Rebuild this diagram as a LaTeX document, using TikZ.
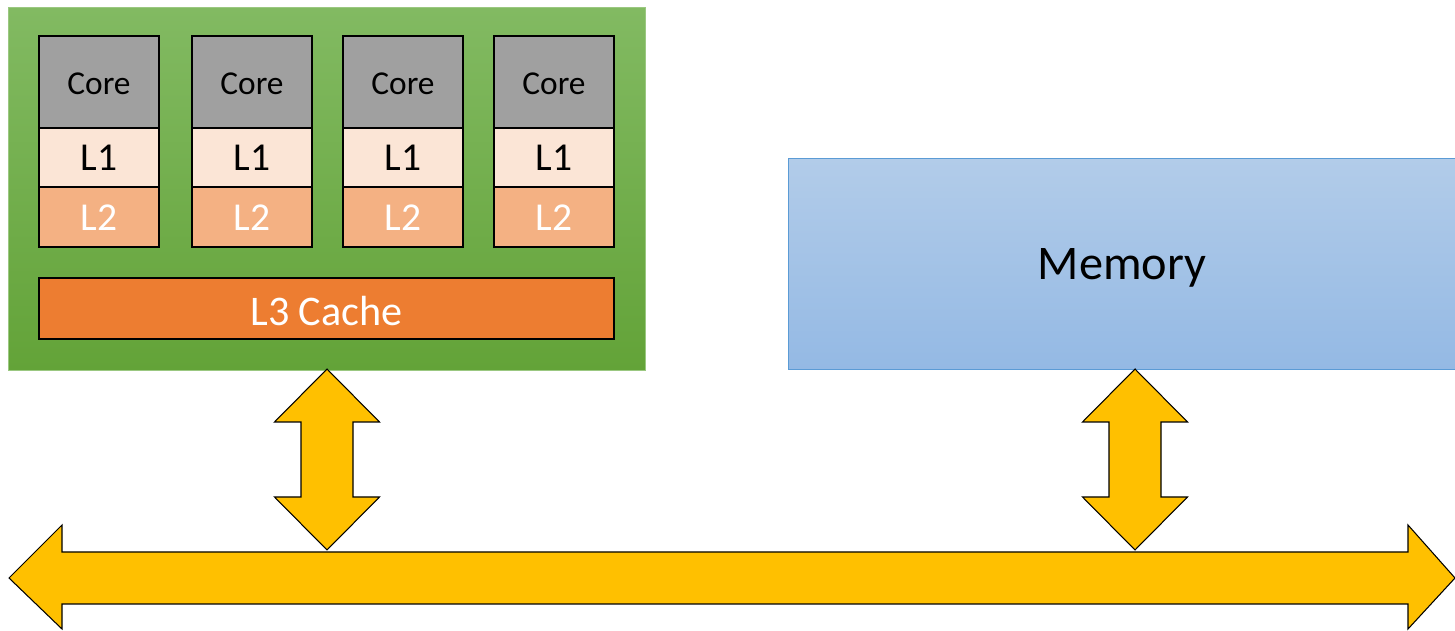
\documentclass[tikz,border=0pt]{standalone}
\usepackage{fontspec}
\setmainfont{Carlito}
\usetikzlibrary{positioning}

\definecolor{chiptop}{RGB}{130,186,98}
\definecolor{chipbot}{RGB}{99,163,56}
\definecolor{coregray}{RGB}{160,160,160}
\definecolor{lonefill}{RGB}{251,229,214}
\definecolor{ltwofill}{RGB}{244,177,131}
\definecolor{lthreefill}{RGB}{237,125,49}
\definecolor{memtop}{RGB}{178,204,233}
\definecolor{membot}{RGB}{148,185,228}
\definecolor{memline}{RGB}{91,155,213}
\definecolor{busyellow}{RGB}{255,192,0}

\begin{document}
\begin{tikzpicture}[x=0.02cm,y=-0.02cm,
  caps/.style={text height=#1,text depth=0pt},
  box/.style={draw=black,line width=1.1pt,inner sep=0pt,outer sep=0pt,minimum width=2.4cm},
  corebox/.style={box,fill=coregray,minimum height=1.84cm,caps=0.5cm,font=\fontsize{19}{23}\selectfont},
  lonebox/.style={box,fill=lonefill,minimum height=1.18cm,caps=0.53cm,font=\fontsize{22.5}{27}\selectfont},
  ltwobox/.style={box,fill=ltwofill,minimum height=1.2cm,caps=0.53cm,text=white,font=\fontsize{22.5}{27}\selectfont},
  bus/.style={fill=busyellow,draw=black,line width=0.6pt,line join=miter}]
\useasboundingbox (0,0) rectangle (1455,631);

% chip with the four cores
\node[anchor=north west,inner sep=0pt,minimum width=12.74cm,minimum height=7.26cm,
  top color=chiptop,bottom color=chipbot,draw=chiptop!80!white,line width=0.4pt] (cpu) at (8,7) {};

\node[corebox,anchor=north west] (core1) at (39,36) {Core};
\node[lonebox,below=0pt of core1] (lone1) {L1};
\node[ltwobox,below=0pt of lone1] (ltwo1) {L2};

\node[corebox,anchor=north west] (core2) at (192,36) {Core};
\node[lonebox,below=0pt of core2] (lone2) {L1};
\node[ltwobox,below=0pt of lone2] (ltwo2) {L2};

\node[corebox,anchor=north west] (core3) at (343,36) {Core};
\node[lonebox,below=0pt of core3] (lone3) {L1};
\node[ltwobox,below=0pt of lone3] (ltwo3) {L2};

\node[corebox,anchor=north west] (core4) at (494,36) {Core};
\node[lonebox,below=0pt of core4] (lone4) {L1};
\node[ltwobox,below=0pt of lone4] (ltwo4) {L2};

\node[box,anchor=north west,fill=lthreefill,minimum width=11.5cm,minimum height=1.22cm,
  caps=0.67cm,text=white,font=\fontsize{24}{28}\selectfont] (lthree) at (39,278) {L3 Cache};

% main memory
\node[anchor=north west,inner sep=0pt,minimum width=13.34cm,minimum height=4.22cm,
  top color=memtop,bottom color=membot,draw=memline,line width=0.6pt,
  caps=0.62cm,font=\fontsize{27.5}{32}\selectfont] (mem) at (788,158) {Memory};

% system bus
\draw[bus] (9,578) -- (62,525) -- (62,552) -- (1408,552) -- (1408,525) -- (1455,578)
  -- (1408,629) -- (1408,604) -- (62,604) -- (62,629) -- cycle;

% chip <-> bus
\draw[bus] (327,369) -- (379.5,422) -- (353,422) -- (353,497) -- (379.5,497) -- (327,550)
  -- (274.5,497) -- (301,497) -- (301,422) -- (274.5,422) -- cycle;

% memory <-> bus
\draw[bus] (1135,369) -- (1187.5,422) -- (1161,422) -- (1161,497) -- (1187.5,497) -- (1135,550)
  -- (1082.5,497) -- (1109,497) -- (1109,422) -- (1082.5,422) -- cycle;
\end{tikzpicture}
\end{document}
